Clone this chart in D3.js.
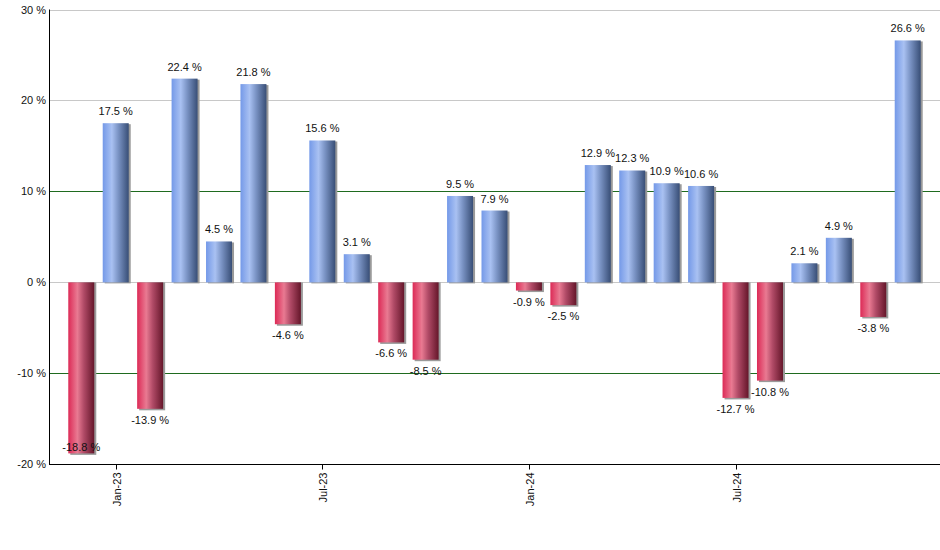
<!DOCTYPE html>
<html><head><meta charset="utf-8">
<script src="https://cdn.jsdelivr.net/npm/d3@7"></script>
<style>body{margin:0;background:#fff}svg{display:block}text{font-family:"Liberation Sans",Arial,sans-serif}</style>
</head><body><svg id="c" width="940" height="550"></svg>
<script>
const months = ["Dec-22","Jan-23","Feb-23","Mar-23","Apr-23","May-23","Jun-23","Jul-23","Aug-23","Sep-23","Oct-23","Nov-23","Dec-23","Jan-24","Feb-24","Mar-24","Apr-24","May-24","Jun-24","Jul-24","Aug-24","Sep-24","Oct-24","Nov-24","Dec-24"];
const values = [-18.8,17.5,-13.9,22.4,4.5,21.8,-4.6,15.6,3.1,-6.6,-8.5,9.5,7.9,-0.9,-2.5,12.9,12.3,10.9,10.6,-12.7,-10.8,2.1,4.9,-3.8,26.6];
const xTickLabels = ["Jan-23","Jul-23","Jan-24","Jul-24"];
const yTicks = [-20,-10,0,10,20,30];

const svg = d3.select("#c");
const L = 49, R = 940, T = 9.5, B = 464.3;
const x = d3.scaleBand().domain(months).range([L, R]).paddingInner(0.245).paddingOuter(0.56);
const y = d3.scaleLinear().domain([-20, 30]).range([B, T]);

const defs = svg.append("defs");
function grad(id, stops){
  const g = defs.append("linearGradient").attr("id", id).attr("x1","0").attr("x2","1").attr("y1","0").attr("y2","0");
  stops.forEach(s => g.append("stop").attr("offset", s[0]).attr("stop-color", s[1]));
}
grad("gBlue", [[0,"#7499e8"],[0.35,"#a9c1f2"],[0.6,"#7a93c4"],[1,"#384e76"]]);
grad("gRed", [[0,"#dc2a56"],[0.35,"#e97a92"],[0.6,"#b04a66"],[1,"#65162a"]]);

// gridlines
const gridColor = v => (v === 10 || v === -10) ? "#1f6b1f" : "#c8c8c8";
svg.append("g").selectAll("line").data(yTicks.filter(v => v !== -20)).join("line")
  .attr("x1", L).attr("x2", R).attr("y1", d => Math.round(y(d)) + 0.5).attr("y2", d => Math.round(y(d)) + 0.5)
  .attr("stroke", d => gridColor(d)).attr("stroke-width", d => (d === 10 || d === -10) ? 1.2 : 1);

// bars
const bw = x.bandwidth();
const bars = svg.append("g");
bars.selectAll("rect.sh").data(values).join("rect").attr("class","sh")
  .attr("x", (d,i) => x(months[i]) + 2)
  .attr("y", d => Math.min(y(d), y(0)) + (d >= 0 ? 1 : 0))
  .attr("width", bw)
  .attr("height", d => Math.abs(y(d) - y(0)) + (d < 0 ? 1.5 : 0))
  .attr("fill", "#9a9a9a");
bars.selectAll("rect.b").data(values).join("rect").attr("class","b")
  .attr("x", (d,i) => x(months[i]))
  .attr("y", d => Math.min(y(d), y(0)))
  .attr("width", bw)
  .attr("height", d => Math.abs(y(d) - y(0)))
  .attr("fill", d => d >= 0 ? "url(#gBlue)" : "url(#gRed)");

// value labels
svg.append("g").selectAll("text").data(values).join("text")
  .attr("x", (d,i) => x(months[i]) + bw/2)
  .attr("y", d => d >= 0 ? y(d) - 8 : Math.min(y(d) + 15, 451))
  .attr("text-anchor", "middle").attr("font-size", 11).attr("fill", "#111")
  .text(d => d.toFixed(1) + " %");

// axes
svg.append("line").attr("x1", L + 0.5).attr("x2", L + 0.5).attr("y1", T).attr("y2", B + 0.5).attr("stroke", "#000");
svg.append("line").attr("x1", L).attr("x2", R).attr("y1", Math.round(B) + 0.5).attr("y2", Math.round(B) + 0.5).attr("stroke", "#000");

svg.append("g").selectAll("text").data(yTicks).join("text")
  .attr("x", 46).attr("y", d => y(d) + 4)
  .attr("text-anchor", "end").attr("font-size", 11).attr("fill", "#111")
  .text(d => d + " %");

const xt = svg.append("g").selectAll("g").data(xTickLabels).join("g")
  .attr("transform", d => `translate(${Math.round(x(d) + bw/2) + 0.5},${Math.round(B) + 0.5})`);
xt.append("line").attr("y1", 0).attr("y2", 5).attr("stroke", "#000");
xt.append("text").attr("transform", "rotate(-90)").attr("x", -8).attr("y", 4)
  .attr("text-anchor", "end").attr("font-size", 11).attr("fill", "#111").text(d => d);
</script></body></html>
